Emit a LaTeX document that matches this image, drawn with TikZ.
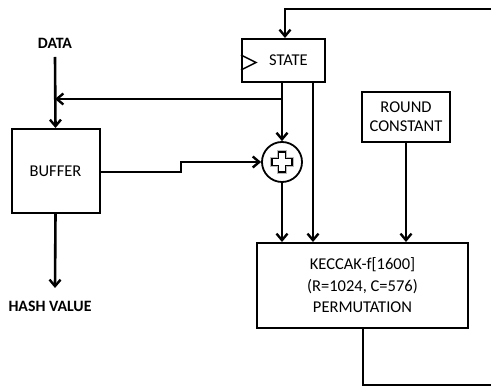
\documentclass[tikz,border=0pt]{standalone}
\usepackage{fontspec}
\setmainfont{Carlito}
\usetikzlibrary{arrows.meta}
\begin{document}
\begin{tikzpicture}[x=1pt,y=-1pt,
  box/.style={draw, line width=2pt, fill=white, inner sep=0pt, font=\fontsize{16.5}{19}\selectfont},
  conn/.style={line width=2.6pt},
  arr/.style={conn, -{Straight Barb[length=6.5pt,width=11pt,line width=2.4pt]}},
  lbl/.style={font=\fontsize{15.8}{18}\selectfont\bfseries, inner sep=0pt}]
\useasboundingbox (0,0) rectangle (491,387);
% nodes
\node[box, minimum width=83pt, minimum height=43pt] (state) at (283.5,60.5) {\hspace*{10pt}STATE};
\draw[line width=1.5pt] (state.west |- 0,55) -- (256,62.5) -- (state.west |- 0,70);
\node[box, minimum width=88pt, minimum height=84pt] (buffer) at (55.5,171) {BUFFER};
\node[box, minimum width=88pt, minimum height=50pt, align=center] (round) at (406,117) {ROUND\\CONSTANT};
\node[box, minimum width=211pt, minimum height=85pt, align=center] (keccak) at (362.5,285.5) {KECCAK-f[1600]\\[2.5pt](R=1024, C=576)\\[2.5pt]PERMUTATION};
\node[draw, circle, line width=1.8pt, minimum size=40pt, inner sep=0pt, fill=white] (xor) at (282,162) {};
\draw[line width=3.5pt, gray!55, fill=gray!55] (xor.center) ++(-3.5,-10) -- ++(7,0) -- ++(0,6.5) -- ++(6.5,0) -- ++(0,7) -- ++(-6.5,0) -- ++(0,6.5) -- ++(-7,0) -- ++(0,-6.5) -- ++(-6.5,0) -- ++(0,-7) -- ++(6.5,0) -- cycle;
\draw[line width=1.5pt, fill=white] (xor.center) ++(-3.5,-10) -- ++(7,0) -- ++(0,6.5) -- ++(6.5,0) -- ++(0,7) -- ++(-6.5,0) -- ++(0,6.5) -- ++(-7,0) -- ++(0,-6.5) -- ++(-6.5,0) -- ++(0,-7) -- ++(6.5,0) -- cycle;
\node[lbl] (data) at (55,43) {DATA};
\node[lbl] (hash) at (50,306) {HASH VALUE};
% coordinates
\coordinate (tr) at (492,9);
\coordinate (br) at (492,385);
\coordinate (fb) at (55,99);
\coordinate (bx) at (181,172);
% connectors
\draw[arr] (data.south |- 0,57) -- (buffer.north);
\draw[arr] (282,99) -- (fb);
\draw[arr] (state.south -| xor.north) -- (xor.north);
\draw[arr] (xor.south) -- (keccak.north -| xor.south);
\draw[arr] (313,82) -- (keccak.north -| 313,0);
\draw[arr] (round.south) -- (keccak.north -| round.south);
\draw[arr] (buffer.east |- bx) -- (bx) -- (181,162) -- (xor.west);
\draw[arr] (buffer.south) -- (55,288);
\draw[conn] (keccak.south -| 363,0) -- (363,385) -- (br);
\draw[arr] (tr) -- (285,9) -- (state.north -| 285,0);
\end{tikzpicture}
\end{document}
